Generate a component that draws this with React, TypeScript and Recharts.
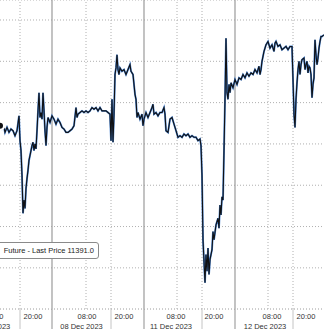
import { CartesianGrid, Line, LineChart, ReferenceLine, XAxis, YAxis } from "recharts";

// bar index along the (session-compressed) time axis
const bars = [
  0, 2, 4, 5, 7, 9, 11, 13, 15, 17, 19, 20, 21, 22, 23, 24, 25, 26, 27, 28, 29, 30, 31, 32, 33, 34, 35, 36, 37, 38,
  39, 40, 41, 42, 43, 44, 45, 46, 47, 48, 50, 52, 54, 56, 58, 60, 62, 64, 66, 68, 70, 72, 74, 76, 77, 78, 80, 82, 84,
  86, 88, 90, 92, 94, 96, 98, 100, 102, 104, 106, 108, 110, 111, 112, 113, 114, 115, 116, 117, 118, 119, 120, 122,
  124, 126, 128, 130, 131, 133, 135, 136, 137, 138, 140, 142, 143, 144, 146, 148, 150, 152, 153, 154, 156, 158, 160,
  162, 164, 165, 166, 168, 170, 172, 174, 176, 178, 180, 182, 184, 186, 188, 190, 192, 194, 196, 198, 200, 201, 202,
  203, 204, 205, 206, 207, 208, 209, 210, 212, 213, 214, 216, 218, 219, 220, 221, 222, 223, 224, 225, 226, 227, 228,
  229, 230, 231, 233, 235, 237, 239, 241, 243, 245, 247, 249, 251, 253, 255, 257, 259, 260, 261, 262, 264, 266, 268,
  270, 272, 274, 275, 276, 278, 280, 282, 284, 286, 288, 290, 292, 293, 294, 295, 296, 297, 298, 299, 300, 301, 302,
  304, 305, 306, 307, 308, 309, 310, 311, 312, 313, 314, 315, 316, 317, 318, 319, 320, 321, 322, 324,
];

const prices = [
  11336, 11334, 11335, 11332, 11335, 11332, 11334, 11333, 11330, 11333, 11342, 11327, 11321, 11306, 11283, 11291,
  11286, 11298, 11304, 11309, 11315, 11318, 11321, 11324, 11326, 11321, 11325, 11322, 11333, 11345, 11356, 11341,
  11344, 11340, 11356, 11345, 11333, 11324, 11335, 11341, 11338, 11342, 11340, 11337, 11340, 11338, 11335, 11334,
  11332, 11332, 11333, 11334, 11336, 11347, 11341, 11343, 11344, 11345, 11344, 11345, 11344, 11345, 11347, 11346,
  11347, 11345, 11347, 11345, 11345, 11345, 11344, 11343, 11327, 11352, 11326, 11343, 11367, 11371, 11379, 11370,
  11367, 11371, 11369, 11370, 11367, 11370, 11373, 11369, 11367, 11355, 11352, 11341, 11344, 11340, 11343, 11336,
  11340, 11344, 11341, 11344, 11347, 11349, 11343, 11344, 11342, 11344, 11344, 11347, 11343, 11333, 11332, 11340,
  11341, 11337, 11333, 11329, 11330, 11329, 11331, 11330, 11331, 11329, 11330, 11329, 11329, 11327, 11328, 11324,
  11306, 11267, 11254, 11241, 11258, 11248, 11262, 11246, 11255, 11261, 11272, 11267, 11276, 11280, 11274, 11288,
  11282, 11293, 11291, 11321, 11352, 11389, 11356, 11352, 11361, 11356, 11362, 11359, 11364, 11361, 11365, 11364,
  11367, 11365, 11368, 11366, 11368, 11367, 11370, 11368, 11372, 11367, 11370, 11375, 11381, 11385, 11387, 11383,
  11385, 11381, 11386, 11387, 11384, 11385, 11382, 11383, 11384, 11382, 11384, 11384, 11364, 11343, 11335, 11352,
  11362, 11370, 11375, 11367, 11373, 11376, 11377, 11370, 11373, 11375, 11368, 11372, 11371, 11367, 11353, 11361,
  11365, 11388, 11379, 11373, 11377, 11383, 11387, 11390, 11390, 11391,
];

const priceTicks = [11250, 11275, 11300, 11325, 11350, 11375, 11400];
const daySeparators = [52, 144, 235];
const sessionLines = [20, 86, 111, 177, 202, 268, 293];
const axisSeparators = [20, 52, 111, 144, 202, 235, 293];
const timeTicks = [-6, 33, 87, 124, 176, 214, 272, 306];
const timeLabels = ["08:00", "20:00", "08:00", "20:00", "08:00", "20:00", "08:00", "20:00"];
const dateTicks = [-11, 81.5, 171, 265];
const dateLabels = ["07 Dec 2023", "08 Dec 2023", "11 Dec 2023", "12 Dec 2023"];

const data = bars.map((bar, i) => ({ bar, price: prices[i] }));
const FONT = "'Liberation Sans', Arial, sans-serif";

function AxisTick(props: any) {
  const { x, y, payload } = props;
  const v = payload.value;
  if (axisSeparators.includes(v)) {
    const day = daySeparators.includes(v);
    return <line x1={x} x2={x} y1={y} y2={y + 20} stroke={day ? "#8f8f8f" : "#c4c4c4"} strokeWidth={1} />;
  }
  const ti = timeTicks.indexOf(v);
  if (ti >= 0) {
    return (
      <text x={x} y={y + 10} textAnchor="middle" fontSize={7.5} fontFamily={FONT} fill="#333">
        {timeLabels[ti]}
      </text>
    );
  }
  const di = dateTicks.indexOf(v);
  if (di >= 0) {
    return (
      <text x={x} y={y + 19.5} textAnchor="middle" fontSize={7.5} fontFamily={FONT} fill="#333">
        {dateLabels[di]}
      </text>
    );
  }
  return <g />;
}

export default function App() {
  return (
    <div style={{ position: "absolute", left: 0, top: 0, width: 324, height: 329, overflow: "hidden", background: "#fff" }}>
      <LineChart width={324} height={329} data={data} margin={{ top: 0, right: 0, bottom: 0, left: 0 }}>
        <CartesianGrid vertical={false} stroke="#b0b0b0" strokeDasharray="1 2" />
        <XAxis
          dataKey="bar"
          type="number"
          domain={[0, 324]}
          allowDataOverflow
          ticks={[...axisSeparators, ...timeTicks, ...dateTicks]}
          interval={0}
          height={20}
          tickSize={0}
          tickMargin={0}
          tick={<AxisTick />}
          axisLine={{ stroke: "#c4c4c4", strokeDasharray: "1 2" }}
        />
        <YAxis hide domain={[11225.1, 11412.1]} ticks={priceTicks} allowDataOverflow />
        {sessionLines.map((b) => (
          <ReferenceLine key={`s${b}`} x={b} stroke="#b0b0b0" strokeDasharray="1 2" />
        ))}
        {daySeparators.map((b) => (
          <ReferenceLine key={`d${b}`} x={b} stroke="#9a9a9a" strokeWidth={1.2} />
        ))}
        <Line dataKey="price" stroke="#4580cf" strokeWidth={1.9} dot={false} isAnimationActive={false} />
        <Line dataKey="price" stroke="#101114" strokeWidth={1.1} dot={false} isAnimationActive={false} />
      </LineChart>
      <div
        style={{
          position: "absolute",
          left: -10,
          top: 242,
          width: 103,
          height: 15,
          border: "1px solid #8a8a8a",
          borderRadius: 3,
          background: "#fff",
          fontFamily: FONT,
          fontSize: 7.5,
          color: "#222",
          lineHeight: "15px",
          textAlign: "right",
          whiteSpace: "nowrap",
          overflow: "hidden",
          paddingRight: 4,
          boxSizing: "content-box",
        }}
      >
        Future - Last Price 11391.0
      </div>
    </div>
  );
}
